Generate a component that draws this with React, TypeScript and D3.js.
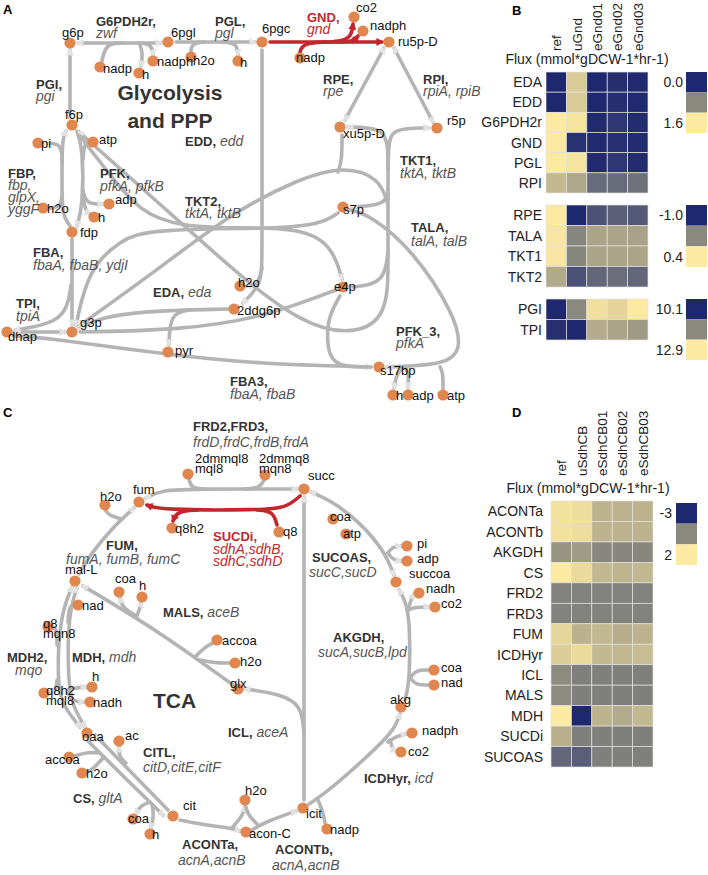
import React from 'react';
import * as d3 from 'd3';

type P = [number, number];
const FONT = "'Liberation Sans', Arial, Helvetica, sans-serif";
const NAVY = '#1e286e';
const MID = '#8a897f';
const YEL = '#fce9a2';
const ORANGE = '#e0874f';
const GRAY = '#b4b4b4';
const RED = '#c1272d';

// ---------------- heatmap data ----------------
const colsB = ['ref', 'uGnd', 'eGnd01', 'eGnd02', 'eGnd03'];
const rowsB1 = ['EDA', 'EDD', 'G6PDH2r', 'GND', 'PGL', 'RPI'];
const valuesB1 = [
  [0.0, 1.35, 0.0, 0.05, 0.02],
  [0.0, 1.35, 0.0, 0.05, 0.02],
  [1.6, 1.55, 0.02, 0.12, 0.03],
  [1.6, 0.08, 0.02, 0.06, 0.03],
  [1.6, 1.55, 0.02, 0.12, 0.03],
  [1.2, 1.05, 0.55, 0.55, 0.6],
];
const legendB1 = [0.0, 1.6];
const rowsB2 = ['RPE', 'TALA', 'TKT1', 'TKT2'];
const valuesB2 = [
  [0.4, -1.0, -0.7, -0.6, -0.65],
  [0.37, -0.32, -0.1, -0.1, -0.12],
  [0.37, -0.32, -0.1, -0.1, -0.1],
  [-0.06, -0.7, -0.55, -0.5, -0.55],
];
const legendB2 = [-1.0, 0.4];
const rowsB3 = ['PGI', 'TPI'];
const valuesB3 = [
  [10.1, 11.5, 12.75, 12.6, 12.9],
  [10.2, 10.1, 12.0, 11.9, 11.75],
];
const legendB3 = [10.1, 12.9];

const colsD = ['ref', 'uSdhCB', 'eSdhCB01', 'eSdhCB02', 'eSdhCB03'];
const rowsD = ['ACONTa', 'ACONTb', 'AKGDH', 'CS', 'FRD2', 'FRD3', 'FUM', 'ICDHyr', 'ICL', 'MALS', 'MDH', 'SUCDi', 'SUCOAS'];
const valuesD = [
  [1.8, 1.7, 0.6, 0.6, 0.6],
  [1.8, 1.7, 0.6, 0.6, 0.6],
  [-0.2, 0.0, -0.55, -0.55, -0.55],
  [2.0, 1.6, 0.7, 0.65, 0.7],
  [-0.7, -0.7, -0.7, -0.7, -0.7],
  [-0.7, -0.7, -0.7, -0.7, -0.7],
  [1.5, 0.55, 0.7, 0.45, 0.6],
  [1.3, 1.6, 0.75, 0.7, 0.85],
  [-0.45, -0.75, -0.75, -0.75, -0.75],
  [-0.45, -0.75, -0.75, -0.75, -0.75],
  [2.0, -3.0, 0.6, 0.4, 0.75],
  [0.5, -0.75, -0.75, -0.75, -0.75],
  [-1.4, -1.6, -0.75, -0.75, -0.75],
];
const legendD = [-3, 2];
const fluxLabel = 'Flux (mmol*gDCW-1*hr-1)';

// ---------------- network layout (panel A) ----------------
type N = { t: string | string[]; x: number; y: number; lx: number; ly: number };
const nodesA: N[] = [
  { t: 'g6p', x: 70, y: 43, lx: 62, ly: 37 },
  { t: '6pgl', x: 168, y: 42, lx: 171, ly: 37 },
  { t: 'nadp', x: 100, y: 67, lx: 103, ly: 73 },
  { t: 'h', x: 139, y: 73, lx: 142, ly: 79 },
  { t: 'nadph', x: 153, y: 61, lx: 157, ly: 66 },
  { t: 'h2o', x: 191, y: 57, lx: 193, ly: 65 },
  { t: 'h', x: 238, y: 61, lx: 240, ly: 67 },
  { t: '6pgc', x: 262, y: 42, lx: 262, ly: 33 },
  { t: 'co2', x: 354, y: 17, lx: 356, ly: 12 },
  { t: 'nadph', x: 363, y: 31, lx: 370, ly: 30 },
  { t: 'nadp', x: 300, y: 58, lx: 296, ly: 62 },
  { t: 'ru5p-D', x: 389, y: 42, lx: 398, ly: 46 },
  { t: 'xu5p-D', x: 340, y: 127, lx: 343, ly: 138 },
  { t: 'r5p', x: 437, y: 128, lx: 447, ly: 125 },
  { t: 'f6p', x: 72, y: 125, lx: 65, ly: 119 },
  { t: 'pi', x: 38, y: 143, lx: 41, ly: 148 },
  { t: 'atp', x: 93, y: 142, lx: 99, ly: 144 },
  { t: 'h2o', x: 43, y: 208, lx: 47, ly: 213 },
  { t: 'adp', x: 109, y: 204, lx: 115, ly: 204 },
  { t: 'h', x: 94, y: 217, lx: 98, ly: 222 },
  { t: 'fdp', x: 72, y: 232, lx: 80, ly: 237 },
  { t: 'g3p', x: 72, y: 332, lx: 80, ly: 327 },
  { t: 'dhap', x: 7, y: 332, lx: 8, ly: 341 },
  { t: 'pyr', x: 168, y: 352, lx: 175, ly: 355 },
  { t: '2ddg6p', x: 234, y: 309, lx: 237, ly: 315 },
  { t: 'h2o', x: 240, y: 286, lx: 238, ly: 287 },
  { t: 's7p', x: 343, y: 207, lx: 343, ly: 214 },
  { t: 'e4p', x: 343, y: 287, lx: 334, ly: 291 },
  { t: 's17bp', x: 379, y: 367, lx: 380, ly: 375 },
  { t: 'h', x: 393, y: 395, lx: 396, ly: 400 },
  { t: 'adp', x: 408, y: 395, lx: 412, ly: 400 },
  { t: 'atp', x: 443, y: 395, lx: 447, ly: 400 },
];

type E = { p: P[]; s?: boolean; e?: boolean; red?: boolean };
const edgesA: E[] = [
  // G6PDH2r
  { p: [[78, 43], [161, 43]], s: true, e: true },
  { p: [[124, 43], [106, 43], [102, 61]] },
  { p: [[139, 43], [143, 52], [141, 66]], e: true },
  { p: [[141, 43], [152, 45], [153, 55]], e: true },
  // PGL
  { p: [[176, 42], [255, 42]], e: true },
  { p: [[205, 42], [192, 43], [191, 51]] },
  { p: [[222, 42], [237, 43], [238, 55]], e: true },
  // PGI
  { p: [[70, 118], [70, 50]], s: true, e: true },
  // RPE, RPI
  { p: [[384, 48], [345, 120]], s: true, e: true },
  { p: [[433, 122], [394, 48]], s: true, e: true },
  // EDD
  { p: [[262, 50], [262, 255], [262, 284], [243, 303]], e: true },
  { p: [[262, 268], [258, 285], [246, 286]], e: true },
  // EDA
  { p: [[228, 309], [140, 311], [100, 318], [79, 328]], e: true },
  { p: [[190, 310], [170, 313], [169, 345]], e: true },
  // TPI
  { p: [[13, 332], [65, 332]], s: true, e: true },
  // FBA
  { p: [[72, 239], [72, 325]], e: true },
  { p: [[71, 285], [66, 322], [15, 330]], e: true },
  // FBP
  { p: [[70, 226], [62, 215], [62, 180], [62, 140], [66, 131]], e: true },
  { p: [[62, 162], [62, 143], [44, 143]], e: true },
  { p: [[62, 195], [61, 207], [49, 208]] },
  // PFK
  { p: [[77, 131], [83, 150], [83, 205], [77, 226]], e: true },
  { p: [[83, 160], [84, 145], [88, 142]] },
  { p: [[83, 190], [86, 204], [103, 204]], e: true },
  { p: [[83, 198], [86, 212], [90, 214]], e: true },
  // TKT1 (r5p / xu5p-D vertical)
  { p: [[388, 200], [388, 145], [392, 128], [429, 128]], e: true },
  { p: [[388, 170], [388, 140], [380, 128], [348, 127]], e: true },
  { p: [[388, 190], [386, 205], [352, 207]], e: true },
  { p: [[388, 190], [388, 260], [388, 318], [350, 336], [300, 322], [245, 280], [200, 240], [79, 132]], e: true },
  // TKT2 arc
  { p: [[79, 326], [160, 268], [230, 214], [300, 178], [345, 166], [380, 178], [388, 205]], s: true },
  { p: [[342, 135], [342, 160], [338, 172]] },
  // TALA
  { p: [[76, 325], [88, 270], [120, 240], [150, 229], [290, 228]], s: true },
  { p: [[80, 136], [110, 175], [140, 212], [180, 227], [250, 228]] },
  { p: [[240, 228], [300, 228], [332, 245], [342, 279]], e: true },
  { p: [[270, 228], [320, 225], [338, 213]] },
  { p: [[353, 287], [385, 283], [388, 250]] },
  { p: [[80, 332], [180, 330], [260, 318], [320, 296], [336, 290]] },
  // PFK_3
  { p: [[350, 210], [370, 215], [413, 250], [455, 315], [462, 350], [445, 365], [387, 367]], e: true },
  { p: [[405, 367], [397, 372], [394, 388]], e: true },
  { p: [[405, 367], [409, 375], [408, 388]], e: true },
  { p: [[440, 367], [443, 372], [443, 389]] },
  // FBA3
  { p: [[13, 336], [40, 337], [170, 355], [260, 364], [371, 367]], e: true },
  { p: [[340, 296], [326, 320], [328, 360], [345, 367], [371, 367]] },
  // GND (red)
  { p: [[270, 42], [382, 42]], e: true, red: true },
  { p: [[328, 42], [303, 43], [300, 52]], red: true },
  { p: [[330, 42], [351, 40], [353, 24]], e: true, red: true },
  { p: [[334, 42], [353, 42], [358, 36]], e: true, red: true },
];

type RL = { x: number; y: number; b: string; i: string[]; sp?: number; ix?: number; inline?: boolean; red?: boolean };
const rxnLabelsA: RL[] = [
  { x: 96, y: 26, b: 'G6PDH2r,', i: ['zwf'], sp: 12 },
  { x: 215, y: 26, b: 'PGL,', i: ['pgl'], sp: 12 },
  { x: 307, y: 22, b: 'GND,', i: ['gnd'], sp: 12, red: true },
  { x: 36, y: 89, b: 'PGI,', i: ['pgi'], sp: 12 },
  { x: 185, y: 146, b: 'EDD,', i: ['edd'], inline: true },
  { x: 8, y: 178, b: 'FBP,', i: ['fbp,', 'glpX,', 'yggF'], sp: 12 },
  { x: 100, y: 178, b: 'PFK,', i: ['pfkA, pfkB'], sp: 13 },
  { x: 185, y: 206, b: 'TKT2,', i: ['tktA, tktB'], sp: 12 },
  { x: 323, y: 84, b: 'RPE,', i: ['rpe'], sp: 12 },
  { x: 423, y: 84, b: 'RPI,', i: ['rpiA, rpiB'], sp: 12 },
  { x: 400, y: 165, b: 'TKT1,', i: ['tktA, tktB'], sp: 13 },
  { x: 33, y: 257, b: 'FBA,', i: ['fbaA, fbaB, ydjI'], sp: 13 },
  { x: 16, y: 308, b: 'TPI,', i: ['tpiA'], sp: 13 },
  { x: 153, y: 297, b: 'EDA,', i: ['eda'], inline: true },
  { x: 411, y: 232, b: 'TALA,', i: ['talA, talB'], sp: 14 },
  { x: 396, y: 336, b: 'PFK_3,', i: ['pfkA'], sp: 12 },
  { x: 230, y: 386, b: 'FBA3,', i: ['fbaA, fbaB'], sp: 13 },
];

// ---------------- network layout (panel C) ----------------
const nodesC: N[] = [
  { t: ['2dmmql8', 'mql8'], x: 188, y: 474, lx: 195, ly: 463 },
  { t: ['2dmmq8', 'mqn8'], x: 265, y: 475, lx: 259, ly: 463 },
  { t: 'succ', x: 304, y: 489, lx: 308, ly: 480 },
  { t: 'fum', x: 139, y: 502, lx: 133, ly: 494 },
  { t: 'h2o', x: 105, y: 505, lx: 100, ly: 501 },
  { t: 'q8h2', x: 172, y: 528, lx: 175, ly: 533 },
  { t: 'q8', x: 279, y: 532, lx: 283, ly: 536 },
  { t: 'mal-L', x: 75, y: 581, lx: 65, ly: 574 },
  { t: 'coa', x: 119, y: 592, lx: 115, ly: 583 },
  { t: 'h', x: 142, y: 597, lx: 139, ly: 590 },
  { t: 'nad', x: 78, y: 605, lx: 82, ly: 610 },
  { t: ['q8', 'mqn8'], x: 48, y: 627, lx: 43, ly: 628 },
  { t: 'accoa', x: 217, y: 640, lx: 222, ly: 645 },
  { t: 'h2o', x: 235, y: 663, lx: 240, ly: 666 },
  { t: 'glx', x: 238, y: 689, lx: 230, ly: 688 },
  { t: 'h', x: 92, y: 687, lx: 92, ly: 681 },
  { t: ['q8h2', 'mql8'], x: 44, y: 693, lx: 46, ly: 695 },
  { t: 'nadh', x: 90, y: 702, lx: 93, ly: 707 },
  { t: 'oaa', x: 87, y: 733, lx: 82, ly: 741 },
  { t: 'ac', x: 119, y: 741, lx: 125, ly: 740 },
  { t: 'accoa', x: 69, y: 757, lx: 45, ly: 764 },
  { t: 'h2o', x: 82, y: 773, lx: 86, ly: 778 },
  { t: 'coa', x: 133, y: 819, lx: 128, ly: 823 },
  { t: 'h', x: 150, y: 834, lx: 152, ly: 839 },
  { t: 'cit', x: 173, y: 816, lx: 183, ly: 810 },
  { t: 'h2o', x: 245, y: 800, lx: 245, ly: 795 },
  { t: 'acon-C', x: 246, y: 832, lx: 249, ly: 838 },
  { t: 'icit', x: 303, y: 808, lx: 306, ly: 818 },
  { t: 'nadp', x: 327, y: 829, lx: 330, ly: 834 },
  { t: 'co2', x: 401, y: 752, lx: 408, ly: 756 },
  { t: 'nadph', x: 412, y: 733, lx: 422, ly: 735 },
  { t: 'akg', x: 401, y: 707, lx: 390, ly: 704 },
  { t: 'coa', x: 434, y: 670, lx: 441, ly: 672 },
  { t: 'nad', x: 434, y: 685, lx: 441, ly: 687 },
  { t: 'coa', x: 333, y: 519, lx: 330, ly: 521 },
  { t: 'atp', x: 346, y: 534, lx: 343, ly: 538 },
  { t: 'pi', x: 407, y: 546, lx: 417, ly: 548 },
  { t: 'adp', x: 407, y: 561, lx: 417, ly: 563 },
  { t: 'succoa', x: 396, y: 582, lx: 409, ly: 578 },
  { t: 'nadh', x: 419, y: 593, lx: 426, ly: 593 },
  { t: 'co2', x: 435, y: 607, lx: 441, ly: 608 },
];

const edgesC: E[] = [
  // FRD2/FRD3
  { p: [[297, 489], [200, 489], [160, 490], [146, 498]], s: true, e: true },
  { p: [[205, 489], [191, 488], [189, 479]] },
  { p: [[245, 489], [260, 488], [264, 480]] },
  // FUM
  { p: [[134, 508], [112, 528], [90, 555], [79, 574]], s: true, e: true },
  { p: [[122, 519], [110, 516], [106, 511]] },
  // MDH2 / MDH
  { p: [[72, 587], [60, 615], [57, 680], [62, 705], [80, 727]], s: true, e: true },
  { p: [[57, 645], [57, 630], [53, 627]] },
  { p: [[57, 680], [56, 692], [50, 693]], e: true },
  { p: [[77, 588], [68, 615], [68, 680], [72, 705], [85, 727]], s: true, e: true },
  { p: [[68, 622], [69, 607], [73, 605]] },
  { p: [[68, 690], [74, 688], [86, 687]], e: true },
  { p: [[68, 693], [74, 702], [84, 702]], e: true },
  // MALS
  { p: [[233, 685], [160, 632], [83, 586]], e: true },
  { p: [[196, 656], [205, 647], [213, 643]] },
  { p: [[200, 660], [215, 663], [229, 663]] },
  { p: [[135, 615], [122, 607], [120, 598]], e: true },
  { p: [[137, 616], [140, 608], [141, 602]], e: true },
  // ICL
  { p: [[304, 800], [304, 497]], e: true },
  { p: [[304, 735], [302, 705], [280, 694], [245, 689]], e: true },
  // CS
  { p: [[88, 741], [125, 778], [163, 815]], e: true },
  { p: [[100, 753], [88, 752], [75, 756]] },
  { p: [[104, 757], [92, 770], [87, 772]] },
  { p: [[150, 802], [140, 806], [136, 814]], e: true },
  { p: [[152, 804], [154, 815], [151, 828]], e: true },
  // CITL
  { p: [[168, 810], [130, 771], [95, 735]], e: true },
  { p: [[126, 763], [119, 757], [119, 747]], e: true },
  // ACONTa / ACONTb
  { p: [[180, 820], [210, 826], [232, 828], [240, 831]], e: true },
  { p: [[232, 828], [243, 815], [245, 807]], e: true },
  { p: [[252, 830], [265, 822], [296, 811]], e: true },
  { p: [[258, 825], [248, 815], [246, 807]] },
  // ICDHyr
  { p: [[309, 804], [330, 790], [380, 745], [395, 728], [400, 714]], e: true },
  { p: [[318, 800], [323, 812], [325, 823]] },
  { p: [[388, 742], [397, 736], [406, 734]], e: true },
  { p: [[390, 740], [393, 750], [396, 751]], e: true },
  // AKGDH
  { p: [[405, 700], [410, 680], [410, 620], [405, 600], [399, 590]], e: true },
  { p: [[410, 678], [416, 670], [428, 670]] },
  { p: [[410, 678], [416, 685], [428, 685]] },
  { p: [[408, 610], [412, 597], [414, 594]], e: true },
  { p: [[408, 610], [415, 607], [429, 607]], e: true },
  // SUCOAS
  { p: [[394, 575], [385, 552], [360, 522], [330, 500], [311, 492]], s: true, e: true },
  { p: [[388, 553], [392, 547], [401, 546]], e: true },
  { p: [[388, 553], [393, 560], [401, 561]], e: true },
  // SUCDi (red)
  { p: [[300, 496], [286, 508], [260, 510], [160, 510], [147, 505]], e: true, red: true },
  { p: [[257, 510], [273, 511], [277, 525]], red: true },
  { p: [[198, 510], [177, 511], [173, 521]], e: true, red: true },
];

const rxnLabelsC: RL[] = [
  { x: 193, y: 431, b: 'FRD2,FRD3,', i: ['frdD,frdC,frdB,frdA'], sp: 16 },
  { x: 213, y: 541, b: 'SUCDi,', i: ['sdhA,sdhB,', 'sdhC,sdhD'], sp: 12.5, red: true },
  { x: 106, y: 550, b: 'FUM,', i: ['fumA, fumB, fumC'], sp: 14, ix: 66 },
  { x: 163, y: 617, b: 'MALS,', i: ['aceB'], inline: true },
  { x: 7, y: 662, b: 'MDH2,', i: ['mqo'], sp: 13, ix: 15 },
  { x: 72, y: 662, b: 'MDH,', i: ['mdh'], inline: true },
  { x: 143, y: 757, b: 'CITL,', i: ['citD,citE,citF'], sp: 15 },
  { x: 73, y: 803, b: 'CS,', i: ['gltA'], inline: true },
  { x: 182, y: 849, b: 'ACONTa,', i: ['acnA,acnB'], sp: 16, ix: 178 },
  { x: 275, y: 854, b: 'ACONTb,', i: ['acnA,acnB'], sp: 16, ix: 272 },
  { x: 228, y: 737, b: 'ICL,', i: ['aceA'], inline: true },
  { x: 364, y: 783, b: 'ICDHyr,', i: ['icd'], inline: true },
  { x: 333, y: 642, b: 'AKGDH,', i: ['sucA,sucB,lpd'], sp: 15, ix: 318 },
  { x: 312, y: 562, b: 'SUCOAS,', i: ['sucC,sucD'], sp: 15, ix: 309 },
];

const line = d3.line<P>().curve(d3.curveBasis);
const locale = d3.formatLocale({ decimal: '.', thousands: ',', grouping: [3], currency: ['', ''], minus: '-' });

function Edges({ edges }: { edges: E[] }) {
  const ordered = [...edges.filter((e) => !e.red), ...edges.filter((e) => e.red)];
  return (
    <g fill="none" strokeLinecap="round">
      {ordered.map((e, i) => (
        <path
          key={i}
          d={line(e.p) || ''}
          stroke={e.red ? RED : GRAY}
          strokeWidth={3.6}
          markerEnd={e.e ? (e.red ? 'url(#ar)' : 'url(#ag)') : undefined}
          markerStart={e.s ? (e.red ? 'url(#ar)' : 'url(#ag)') : undefined}
        />
      ))}
    </g>
  );
}

function Nodes({ nodes }: { nodes: N[] }) {
  return (
    <g>
      {nodes.map((n, i) => (
        <circle key={'c' + i} cx={n.x} cy={n.y} r={5.6} fill={ORANGE} />
      ))}
      {nodes.map((n, i) => {
        const lines = Array.isArray(n.t) ? n.t : [n.t];
        return (
          <text key={'t' + i} x={n.lx} y={n.ly} fontSize={13} fill="#111">
            {lines.map((s, k) => (
              <tspan key={k} x={n.lx} dy={k === 0 ? 0 : 10}>
                {s}
              </tspan>
            ))}
          </text>
        );
      })}
    </g>
  );
}

function RxnLabels({ labels }: { labels: RL[] }) {
  return (
    <g>
      {labels.map((l, i) => {
        const bc = l.red ? RED : '#333';
        const ic = l.red ? RED : '#555';
        if (l.inline) {
          return (
            <text key={i} x={l.x} y={l.y} fontSize={13}>
              <tspan fontWeight="bold" fill={bc}>{l.b}</tspan>
              <tspan fontStyle="italic" fill={ic} fontSize={14}>{' ' + l.i.join(' ')}</tspan>
            </text>
          );
        }
        const sp = l.sp ?? 13;
        return (
          <g key={i}>
            <text x={l.x} y={l.y} fontSize={13} fontWeight="bold" fill={bc}>
              {l.b}
            </text>
            {l.i.map((s, k) => (
              <text key={k} x={l.ix ?? l.x} y={l.y + sp * (k + 1)} fontSize={14} fontStyle="italic" fill={ic}>
                {s}
              </text>
            ))}
          </g>
        );
      })}
    </g>
  );
}

function colorScale(lo: number, hi: number) {
  return d3
    .scaleLinear<string>()
    .domain([lo, (lo + hi) / 2, hi])
    .range([NAVY, MID, YEL])
    .clamp(true);
}

function Heat({ rows, cols, values, legend, x0, x1, y0, y1, labelGap }: any) {
  const x = d3.scaleBand<string>().domain(cols).range([x0, x1]);
  const y = d3.scaleBand<string>().domain(rows).range([y0, y1]);
  const c = colorScale(legend[0], legend[1]);
  return (
    <g>
      {rows.map((r: string, i: number) => (
        <g key={r}>
          <text x={x0 - labelGap} y={(y(r) as number) + y.bandwidth() / 2} dy="0.36em" textAnchor="end" fontSize={14} fill="#222">
            {r}
          </text>
          {cols.map((cn: string, j: number) => (
            <rect
              key={cn}
              x={x(cn)}
              y={y(r)}
              width={x.bandwidth()}
              height={y.bandwidth()}
              fill={c(values[i][j])}
              stroke="#e4e2da"
              strokeWidth={0.7}
            />
          ))}
        </g>
      ))}
    </g>
  );
}

function Legend({ legend, x, y0, h, labelX, fmt }: any) {
  const c = colorScale(legend[0], legend[1]);
  const stops = [legend[0], (legend[0] + legend[1]) / 2, legend[1]];
  const y = d3.scaleBand<number>().domain([0, 1, 2]).range([y0, y0 + h]);
  return (
    <g>
      {stops.map((v, i) => (
        <rect key={i} x={x} y={y(i)} width={21} height={y.bandwidth()} fill={c(v)} />
      ))}
      <text x={labelX} y={(y(0) as number) + y.bandwidth() / 2} dy="0.36em" textAnchor="end" fontSize={14} fill="#222">
        {fmt(legend[0])}
      </text>
      <text x={labelX} y={(y(2) as number) + y.bandwidth() / 2} dy="0.36em" textAnchor="end" fontSize={14} fill="#222">
        {fmt(legend[1])}
      </text>
    </g>
  );
}

function ColLabels({ cols, x0, x1, yb }: any) {
  const x = d3.scaleBand<string>().domain(cols).range([x0, x1]);
  return (
    <g>
      {cols.map((cn: string) => {
        const cx = (x(cn) as number) + x.bandwidth() / 2 + 5;
        return (
          <text key={cn} transform={`translate(${cx},${yb}) rotate(-90)`} fontSize={13.5} fill="#222">
            {cn}
          </text>
        );
      })}
    </g>
  );
}

export default function App() {
  const f1 = locale.format('.1f');
  const f0 = locale.format('d');
  return (
    <svg
      width={708}
      height={875}
      viewBox="0 0 708 875"
      style={{ position: 'absolute', left: 0, top: 0, background: '#fff' }}
      fontFamily={FONT}
    >
      <defs>
        <marker id="ag" viewBox="0 0 10 10" refX="7" refY="5" markerWidth="8" markerHeight="8" markerUnits="userSpaceOnUse" orient="auto-start-reverse">
          <path d="M0,0L10,5L0,10Z" fill="#e2e2e2" />
        </marker>
        <marker id="ar" viewBox="0 0 10 10" refX="7" refY="5" markerWidth="8" markerHeight="8" markerUnits="userSpaceOnUse" orient="auto-start-reverse">
          <path d="M0,0L10,5L0,10Z" fill={RED} />
        </marker>
      </defs>
      <rect width={708} height={875} fill="#fff" />

      {/* Panel A */}
      <Edges edges={edgesA} />
      <Nodes nodes={nodesA} />
      <RxnLabels labels={rxnLabelsA} />
      <text x={170} y={100} textAnchor="middle" fontSize={21} fontWeight="bold" fill="#333">Glycolysis</text>
      <text x={170} y={128} textAnchor="middle" fontSize={21} fontWeight="bold" fill="#333">and PPP</text>

      {/* Panel C */}
      <Edges edges={edgesC} />
      <Nodes nodes={nodesC} />
      <RxnLabels labels={rxnLabelsC} />
      <text x={153} y={708} fontSize={21} fontWeight="bold" fill="#333">TCA</text>

      {/* Panel B */}
      <ColLabels cols={colsB} x0={546} x1={648} yb={51} />
      <text x={587} y={64} textAnchor="middle" fontSize={14} fill="#222">{fluxLabel}</text>
      <Heat rows={rowsB1} cols={colsB} values={valuesB1} legend={legendB1} x0={546} x1={648} y0={72} y1={193} labelGap={4} />
      <Heat rows={rowsB2} cols={colsB} values={valuesB2} legend={legendB2} x0={546} x1={648} y0={205} y1={287} labelGap={4} />
      <Heat rows={rowsB3} cols={colsB} values={valuesB3} legend={legendB3} x0={546} x1={648} y0={299} y1={340} labelGap={4} />
      <Legend legend={legendB1} x={686} y0={72} h={61} labelX={683} fmt={f1} />
      <Legend legend={legendB2} x={686} y0={205} h={62} labelX={683} fmt={f1} />
      <Legend legend={legendB3} x={686} y0={299} h={61} labelX={683} fmt={f1} />

      {/* Panel D */}
      <ColLabels cols={colsD} x0={551} x1={653} yb={476} />
      <text x={588} y={493} textAnchor="middle" fontSize={14} fill="#222">{fluxLabel}</text>
      <Heat rows={rowsD} cols={colsD} values={valuesD} legend={legendD} x0={551} x1={653} y0={501} y1={767} labelGap={8} />
      <Legend legend={legendD} x={676} y0={503} h={62} labelX={672} fmt={f0} />

      {/* panel letters */}
      <text x={3} y={14} fontSize={13} fontWeight="bold">A</text>
      <text x={512} y={15} fontSize={13} fontWeight="bold">B</text>
      <text x={3} y={417} fontSize={13} fontWeight="bold">C</text>
      <text x={512} y={417} fontSize={13} fontWeight="bold">D</text>
    </svg>
  );
}
